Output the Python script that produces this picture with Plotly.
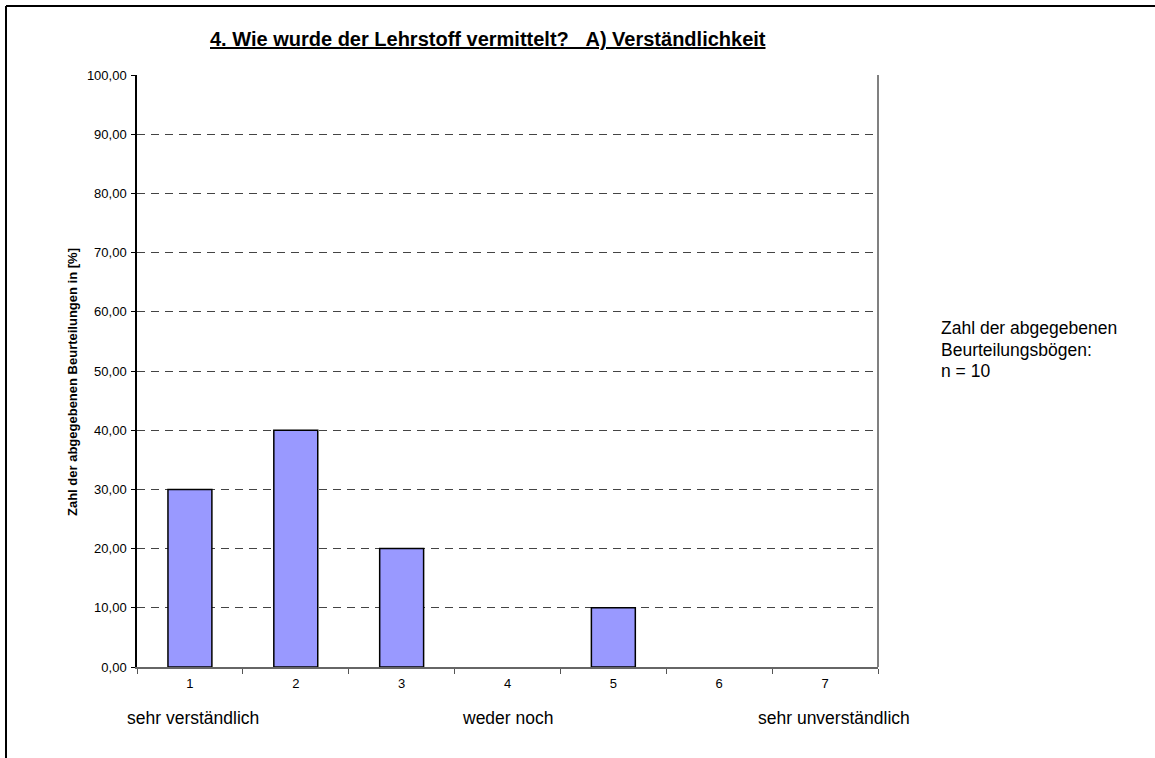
import plotly.graph_objects as go

categories = ["1", "2", "3", "4", "5", "6", "7"]
values = [30, 40, 20, 0, 10, 0, 0]
scale_labels = ["sehr verständlich", "weder noch", "sehr unverständlich"]
scale_positions = ["1", "4", "7"]
title_text = "4. Wie wurde der Lehrstoff vermittelt?\u00a0\u00a0\u00a0A) Verständlichkeit"
y_title = "Zahl der abgegebenen Beurteilungen in [%]"
info_lines = ["Zahl der abgegebenen", "Beurteilungsbögen:", "n = 10"]

W, H = 1155, 758
L, R, T, B = 137, 878, 75, 667
pw, ph = R - L, B - T

def px(x):
    return (x - L) / pw

def py(y):
    return (B - y) / ph

FONT = "Liberation Sans, Arial, sans-serif"

fig = go.Figure()
fig.add_trace(go.Bar(
    x=categories, y=values,
    marker=dict(color="#9999FF",
                line=dict(color="#000000", width=[1.5 if v > 0 else 0 for v in values])),
    width=0.415,
    hoverinfo="x+y",
))

annotations = [
    dict(text="<b><u>" + title_text + "</u></b>", x=px(488), y=py(39), xref="paper", yref="paper",
         showarrow=False, font=dict(size=20, family=FONT, color="#000"), xanchor="center", yanchor="middle"),
    dict(text="<b>" + y_title + "</b>", x=px(72), y=py(382), xref="paper", yref="paper",
         showarrow=False, textangle=-90, font=dict(size=13, family=FONT, color="#000"),
         xanchor="center", yanchor="middle"),
]
shifts = [3, 0, 9]
for lbl, pos, sh in zip(scale_labels, scale_positions, shifts):
    annotations.append(dict(text=lbl, x=categories.index(pos), y=py(718), xref="x", yref="paper",
                            showarrow=False, xshift=sh,
                            font=dict(size=17.5, family=FONT, color="#000"), xanchor="center", yanchor="middle"))
for i, line in enumerate(info_lines):
    annotations.append(dict(text=line, x=px(939), y=py(328 + i * 21.5), xref="paper", yref="paper",
                            showarrow=False, font=dict(size=17.5, family=FONT, color="#000"),
                            xanchor="left", yanchor="middle"))

shapes = [
    # outer frame (left and top edges)
    dict(type="line", xref="paper", yref="paper", x0=px(6), x1=px(6), y0=py(800), y1=py(6),
         line=dict(color="#000", width=2)),
    dict(type="line", xref="paper", yref="paper", x0=px(6), x1=px(1200), y0=py(6), y1=py(6),
         line=dict(color="#000", width=2)),
    # right plot border
    dict(type="line", xref="paper", yref="paper", x0=1, x1=1, y0=0, y1=1,
         line=dict(color="#808080", width=2)),
]

fig.update_layout(
    width=W, height=H,
    margin=dict(l=L, r=W - R, t=T, b=H - B, pad=0),
    paper_bgcolor="white", plot_bgcolor="white",
    showlegend=False,
    separators=",.",
    font=dict(family=FONT, size=13, color="#000"),
    annotations=annotations,
    shapes=shapes,
    bargap=0.585,
)
fig.update_xaxes(
    type="category", tickson="boundaries", ticks="outside", ticklen=5, tickcolor="#555",
    showline=True, linecolor="#666", linewidth=2, showgrid=False,
    tickfont=dict(size=13, family=FONT, color="#000"), ticklabelstandoff=3,
    range=[-0.5, 6.5],
)
fig.update_yaxes(
    range=[0, 100], dtick=10, tickformat=".2f", ticks="outside", ticklen=4, tickcolor="#000",
    showline=True, linecolor="#000", linewidth=1.5,
    showgrid=True, gridcolor="#444", gridwidth=1, griddash="8px,6px",
    tickfont=dict(size=13, family=FONT, color="#000"), zeroline=False, ticklabelstandoff=2,
)

fig.write_html("out.html", config={"displayModeBar": False},
               post_script="document.body.style.margin='0';")
